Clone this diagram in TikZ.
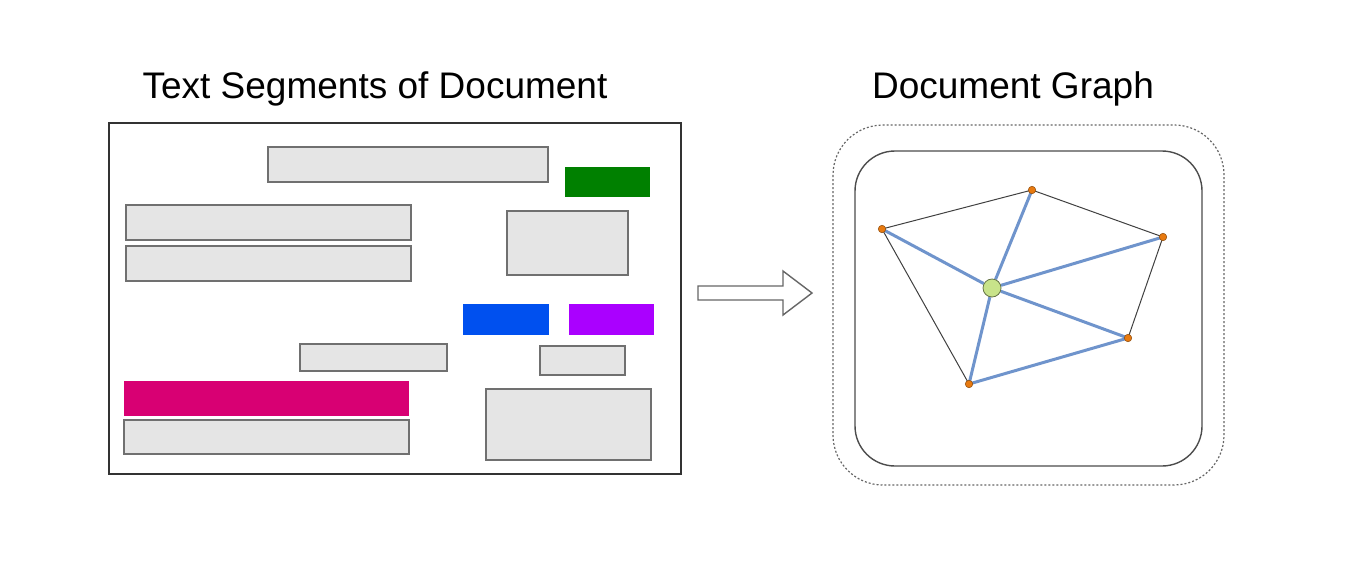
\documentclass[tikz,border=0pt]{standalone}
\usepackage{fontspec}
\setmainfont{Liberation Sans}
\usetikzlibrary{backgrounds}
\definecolor{segfill}{HTML}{E5E5E5}
\definecolor{segdraw}{HTML}{707070}
\definecolor{sgreen}{HTML}{008000}
\definecolor{sblue}{HTML}{0050EF}
\definecolor{spurple}{HTML}{AA00FF}
\definecolor{smagenta}{HTML}{D80073}
\definecolor{eblue}{HTML}{6F94CC}
\definecolor{vorange}{HTML}{E87A10}
\definecolor{cgreen}{HTML}{C8E38A}
\begin{document}
\begin{tikzpicture}[x=1pt,y=-1pt,
  seg/.style={draw=segdraw,line width=1.4pt,fill=segfill},
  title/.style={font=\fontsize{37}{40}\selectfont,anchor=center},
  vert/.style={circle,fill=vorange,draw=vorange!60!black,line width=0.5pt,inner sep=0pt,minimum size=7.5pt},
  hub/.style={circle,fill=cgreen,draw=black!50!cgreen,line width=0.8pt,inner sep=0pt,minimum size=18pt},
  thinedge/.style={draw=black!75,line width=1pt},
  blueedge/.style={draw=eblue,line width=3pt}]
\useasboundingbox (0,0) rectangle (1348,566);
% titles
\node[title] (t1) at (375,89) {Text Segments of Document};
\node[title] (t2) at (1013,89) {Document Graph};
% left frame
\draw[line width=2.2pt,draw=black!80] (109,123) rectangle (681,474);
% segments
\draw[seg] (268,147) rectangle (548,182);
\fill[sgreen] (565,167) rectangle (650,197);
\draw[seg] (126,205) rectangle (411,240);
\draw[seg] (126,246) rectangle (411,281);
\draw[seg] (507,211) rectangle (628,275);
\fill[sblue] (463,304) rectangle (549,335);
\fill[spurple] (569,304) rectangle (654,335);
\draw[seg] (300,344) rectangle (447,371);
\draw[seg] (540,346) rectangle (625,375);
\fill[smagenta] (124,381) rectangle (409,416);
\draw[seg] (124,420) rectangle (409,454);
\draw[seg] (486,389) rectangle (651,460);
% arrow
\draw[draw=black!60,line width=1.4pt,fill=white,line join=miter]
  (698,286) -- (783,286) -- (783,271) -- (812,293) -- (783,315) -- (783,300) -- (698,300) -- cycle;
% graph frames
\draw[draw=black!60,line width=1.2pt,dash pattern=on 2pt off 2pt,rounded corners=50] (833,125) rectangle (1224,485);
\draw[draw=black!70,line width=1.4pt,rounded corners=40] (855,151) rectangle (1202,466);
% vertices
\node[vert] (A) at (882,229) {};
\node[vert] (B) at (1032,190) {};
\node[vert] (C) at (1163,237) {};
\node[vert] (D) at (1128,338) {};
\node[vert] (E) at (969,384) {};
\node[hub] (O) at (992,288) {};
% edges
\begin{scope}[on background layer]
\path[thinedge] (A.center) -- (B.center) (B.center) -- (C.center) (C.center) -- (D.center) (A.center) -- (E.center);
\path[blueedge] (A.center) -- (O) (B.center) -- (O) (C.center) -- (O) (D.center) -- (O) (E.center) -- (O) (E.center) -- (D.center);
\end{scope}
\end{tikzpicture}
\end{document}
